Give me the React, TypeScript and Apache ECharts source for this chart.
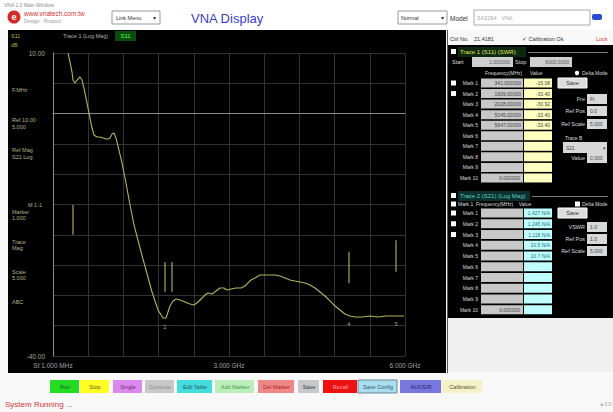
import React, { useEffect, useRef } from "react";
import * as echarts from "echarts";

// ---- Trace data (frequency in MHz, S11 in dB) ----
const freqMHz = [256, 290, 324, 341, 375, 409, 460, 494, 528, 562, 597, 631, 665, 699, 750, 801, 852, 903, 937, 972, 1006, 1040, 1074, 1108, 1176, 1244, 1313, 1381, 1483, 1585, 1688, 1790, 1875, 1926, 1960, 1994, 2045, 2097, 2165, 2250, 2335, 2403, 2472, 2540, 2591, 2642, 2710, 2778, 2847, 2915, 2966, 3034, 3119, 3205, 3273, 3324, 3375, 3443, 3528, 3614, 3699, 3784, 3869, 3955, 4040, 4125, 4210, 4295, 4381, 4466, 4551, 4636, 4722, 4807, 4892, 4977, 5062, 5148, 5267, 5403, 5540, 5676, 5812, 5983];
const traceDb = [10.0, 8.51, 6.86, 5.54, 5.05, 5.54, 6.04, 5.54, 4.22, 2.57, 0.92, -0.73, -2.38, -3.53, -3.86, -3.86, -4.03, -4.19, -4.19, -4.03, -3.37, -3.2, -4.03, -5.35, -8.15, -11.45, -15.08, -18.38, -22.18, -25.81, -29.44, -32.41, -33.73, -33.73, -32.74, -31.75, -30.92, -30.59, -30.76, -31.09, -31.42, -31.59, -31.09, -30.43, -29.93, -29.6, -29.77, -29.28, -28.78, -28.78, -29.11, -28.95, -28.78, -28.78, -28.45, -27.95, -27.46, -27.13, -26.63, -26.63, -26.63, -26.63, -26.8, -27.13, -27.46, -27.63, -27.79, -27.95, -28.28, -28.78, -29.44, -30.1, -30.92, -31.75, -32.41, -33.07, -33.4, -33.57, -33.57, -33.4, -33.57, -33.4, -33.4, -33.4];

// ---- Markers ----
const markerFreq = [341, 1909, 2028, 5045, 5847];
const markerTopDb = [-15.1, -24.5, -24.5, -22.8, -20.9];
const markerBottomDb = [-20.0, -29.4, -29.4, -28.0, -26.1];
const markerTag = ["", "2", "", "4", "5"];
const markerTagDb = [-35, -35.2, -35, -34.8, -34.8];

// ---- Axis ----
const xMin = 0;
const xMax = 6000;
const xInterval = 600;
const xLabelValues = [0, 3000, 6000];
const xLabelTexts = ["St 1.000 MHz", "3.000 GHz", "6.000 GHz"];
const yMin = -40;
const yMax = 10;
const yInterval = 5;
const yLabelValues = [10, -40];
const yLabelTexts = ["10.00", "-40.00"];

// ---- Panel texts ----
const leftInfo = ["F.MHz", "Ref 10.00", "5.000", "Ref Mag", "S21 Log", "M 1-1", "Marker", "1.000", "Trace", "Mag", "Scale", "5.000", "ABC"];
const markRowLabels = ["Mark 1", "Mark 2", "Mark 3", "Mark 4", "Mark 5", "Mark 6", "Mark 7", "Mark 8", "Mark 9", "Mark 10"];
const trace1FreqText = ["341.000000", "1909.00000", "2028.00000", "5045.00000", "5847.00000"];
const trace1ValText = ["-15.08", "-33.40", "-30.92", "-33.40", "-33.40"];
const trace2ValText = ["1.427 N/A", "1.245 N/A", "1.118 N/A", "10.5 N/A", "10.7 N/A"];
const buttonLabels = ["Run", "Stop", "Single", "Continue", "Edit Table", "Add Marker", "Del Marker", "Save", "Recall", "Save Config", "ALF/S/R", "Calibration"];
const buttonColors = ["#22dd22", "#ffff22", "#dd88ee", "#c8c8c8", "#44dddd", "#bbeebb", "#ee8888", "#c8c8cc", "#ee1111", "#aaddee", "#7777dd", "#f4f0c8"];
const buttonText = ["#206020", "#606010", "#603060", "#888888", "#206060", "#40a040", "#b02020", "#333333", "#ffaaaa", "#335566", "#222266", "#555533"];

const FONT = '"Liberation Sans", Arial, sans-serif';

function T(x: number, y: number, text: string, fill = "#000", size = 6, align = "left", weight = "normal") {
  return {
    type: "text",
    x,
    y,
    z: 20,
    silent: true,
    style: {
      text,
      fill,
      font: `${weight} ${size}px ${FONT}`,
      textAlign: align,
      textVerticalAlign: "middle",
      verticalAlign: "middle",
    },
  };
}

function R(x: number, y: number, w: number, h: number, fill: string, stroke?: string, z = 5) {
  return {
    type: "rect",
    z,
    silent: true,
    shape: { x, y, width: w, height: h },
    style: { fill, stroke: stroke || null, lineWidth: stroke ? 1 : 0 },
  };
}

function buildGraphics() {
  const g: any[] = [];
  // top bar
  g.push(R(0, 0, 613, 30, "#ffffff", undefined, -5));
  g.push(T(4, 5, "VNA 1.0 Main Window", "#888", 5));
  g.push({ type: "circle", z: 10, silent: true, shape: { cx: 14, cy: 17, r: 6.5 }, style: { fill: "#d42a2a" } });
  g.push(T(14, 17, "e", "#fff", 9, "center", "bold"));
  g.push(T(24, 13, "www.vnatech.com.tw", "#d03030", 6.5));
  g.push(T(24, 21, "Design · Product", "#999", 5));
  g.push(R(112, 11, 48, 13, "#fff", "#999", 6));
  g.push(T(116, 17.5, "Link Menu", "#333", 5.5));
  g.push(T(153, 17.5, "▾", "#333", 6));
  g.push(T(191, 18, "VNA Display", "#3c3ccc", 13));
  g.push(R(398, 11, 49, 13, "#fff", "#999", 6));
  g.push(T(401, 17.5, "Normal", "#333", 5.5));
  g.push(T(441, 17.5, "▾", "#333", 6));
  g.push(T(450, 18, "Model", "#333", 6.5));
  g.push(R(474, 10, 116, 15, "#fff", "#aaa", 6));
  g.push(T(477, 17.5, "SA3264 · VNA", "#aaa", 5.5));
  g.push({ type: "rect", z: 10, silent: true, shape: { x: 592, y: 14, width: 10, height: 6, r: 2 }, style: { fill: "#2a4ad0" } });
  g.push(T(450, 39, "Ctrl No.", "#333", 5.5));
  g.push(T(474, 39, "21.4181", "#333", 5.5));
  g.push(T(522, 39, "✓ Calibration Ok", "#333", 5.5));
  g.push(T(596, 39, "Lock", "#e04040", 5.5));

  // chart panel
  g.push(R(8, 30, 438, 343, "#000", undefined, -5));
  g.push(T(63, 36, "Trace 1 (Log Mag)", "#b0b0b0", 5.5));
  g.push(R(115, 31, 21, 10, "#0c4c0c", undefined, 6));
  g.push(T(125.5, 36, "S11", "#50ff50", 6, "center"));
  g.push(T(11, 36, "S11", "#a8b040", 5.5));
  g.push(T(11, 45, "dB", "#a8b040", 5.5));
  const infoPos = [[12, 90], [12, 120], [12, 127], [12, 150], [12, 157], [28, 205], [12, 212], [12, 218], [12, 242], [12, 248], [12, 272], [12, 278], [12, 302]];
  leftInfo.forEach((s, i) => g.push(T(infoPos[i][0], infoPos[i][1], s, "#b4b488", 5.5)));

  // right panel
  g.push(R(447, 45, 166, 273, "#000", undefined, -5));
  g.push(R(447, 30, 1, 343, "#555", undefined, -4));
  g.push(R(448, 318, 165, 54, "#f0f0f0", undefined, -5));

  // section 1
  g.push(R(451, 49, 5, 5, "#fff", undefined, 6));
  g.push(R(458, 47, 68, 10, "#0d2a10", undefined, 6));
  g.push(T(460, 52, "Trace 1 (S11) (SWR)", "#e0e060", 6));
  g.push(R(528, 52, 80, 1, "#777", undefined, 6));
  g.push(T(452, 62, "Start", "#ddd", 5.5));
  g.push(R(472, 57, 41, 10, "#cfcfcf", undefined, 6));
  g.push(T(510, 62, "1.000000", "#555", 5, "right"));
  g.push(T(515, 62, "Stop", "#ddd", 5.5));
  g.push(R(530, 57, 42, 10, "#cfcfcf", undefined, 6));
  g.push(T(569, 62, "6000.0000", "#555", 5, "right"));
  g.push(T(485, 73, "Frequency(MHz)", "#ddd", 5));
  g.push(T(530, 73, "Value", "#ddd", 5));
  g.push({ type: "circle", z: 10, silent: true, shape: { cx: 577, cy: 73, r: 2.2 }, style: { fill: "#fff" } });
  g.push(T(582, 73, "Delta Mode", "#ddd", 5));
  markRowLabels.forEach((lab, i) => {
    const cy = 83 + i * 10.55;
    if (i < 2) g.push(R(451, cy - 2.5, 5, 5, "#fff", undefined, 6));
    g.push(T(478, cy, lab, "#ddd", 5, "right"));
    g.push(R(481, cy - 4.5, 42, 9, "#c8c8c8", undefined, 6));
    g.push(R(524, cy - 4.5, 28, 9, "#ffffc0", undefined, 6));
    if (i < 5) {
      g.push(T(521, cy, trace1FreqText[i], "#444", 5, "right"));
      g.push(T(550, cy, trace1ValText[i], "#444", 5, "right"));
    }
    if (i === 9) g.push(T(520, cy, "0.000000", "#444", 5, "right"));
  });
  g.push(R(558, 78, 29, 10, "#dcdcdc", "#fff", 6));
  g.push(T(572.5, 83, "Save", "#333", 5.5, "center"));
  const rightLabels1 = [["Fre", 99], ["Ref Pos", 111], ["Ref Scale", 124]];
  rightLabels1.forEach(([s, y]: any, i) => {
    g.push(T(585, y, s, "#ddd", 5.5, "right"));
    g.push(R(587, y - 5, 20, 10, "#d8d8d8", undefined, 6));
    g.push(T(590, y, i === 2 ? "5.000" : i === 0 ? "Fr" : "0.0", "#444", 5));
  });
  g.push(T(565, 138, "Trace B", "#ddd", 5));
  g.push(R(563, 142, 44, 11, "#d8d8d8", undefined, 6));
  g.push(T(566, 147.5, "S21", "#444", 5));
  g.push(T(603, 147.5, "▾", "#444", 5));
  g.push(T(585, 158, "Value", "#ddd", 5.5, "right"));
  g.push(R(587, 153, 20, 10, "#d8d8d8", undefined, 6));
  g.push(T(590, 158, "0.000", "#444", 5));

  // section 2
  g.push(R(451, 193, 5, 5, "#fff", undefined, 6));
  g.push(R(458, 191, 72, 10, "#0b3030", undefined, 6));
  g.push(T(460, 196, "Trace 2 (S21) (Log Mag)", "#60d0c0", 6));
  g.push(R(532, 196, 76, 1, "#777", undefined, 6));
  g.push(R(451, 201.5, 5, 5, "#fff", undefined, 6));
  g.push(T(458, 204, "Mark 1  Frequency(MHz)    Value", "#ddd", 5));
  g.push(R(575, 201.5, 5, 5, "#fff", undefined, 6));
  g.push(T(582, 204, "Delta Mode", "#ddd", 5));
  markRowLabels.forEach((lab, i) => {
    const cy = 213 + i * 10.75;
    if (i < 3) g.push(R(451, cy - 2.5, 5, 5, "#fff", undefined, 6));
    g.push(T(478, cy, lab, "#ddd", 5, "right"));
    g.push(R(481, cy - 4.5, 42, 9, "#c8c8c8", undefined, 6));
    g.push(R(524, cy - 4.5, 28, 9, "#c0ffff", undefined, 6));
    if (i < 5) g.push(T(550, cy, trace2ValText[i], "#207080", 5, "right"));
    if (i === 9) g.push(T(520, cy, "0.000000", "#444", 5, "right"));
  });
  g.push(R(558, 208, 29, 10, "#dcdcdc", "#fff", 6));
  g.push(T(572.5, 213, "Save", "#333", 5.5, "center"));
  const rightLabels2 = [["VSWR", 227], ["Ref Pos", 239], ["Ref Scale", 251]];
  rightLabels2.forEach(([s, y]: any, i) => {
    g.push(T(585, y, s, "#ddd", 5.5, "right"));
    g.push(R(587, y - 5, 20, 10, "#d8d8d8", undefined, 6));
    g.push(T(590, y, i === 2 ? "5.000" : "1.0", "#444", 5));
  });

  // bottom buttons
  const bx0 = [50, 80, 113, 145, 177, 215, 258, 298, 323, 358, 400, 442];
  const bx1 = [80, 110, 143, 175, 213, 255, 295, 320, 358, 398, 442, 483];
  for (let i = 0; i < buttonLabels.length; i++) {
    g.push(R(bx0[i], 380, bx1[i] - bx0[i] - 1, 13, buttonColors[i], i === 9 ? "#6a8a9a" : undefined, 6));
    g.push(T((bx0[i] + bx1[i]) / 2, 386.5, buttonLabels[i], buttonText[i], 5.5, "center"));
  }
  g.push(T(5, 404, "System Running ...", "#dd3333", 8));
  g.push(T(600, 404, "● 0.0", "#999", 5));
  return g;
}

export default function App() {
  const ref = useRef<HTMLDivElement>(null);
  useEffect(() => {
    if (!ref.current) return;
    const chart = echarts.init(ref.current, null, { renderer: "svg" });
    const option: any = {
      animation: false,
      backgroundColor: "#f8f8f8",
      grid: { left: 53, top: 53, width: 352, height: 303, containLabel: false },
      xAxis: {
        type: "value",
        min: xMin,
        max: xMax,
        interval: xInterval,
        axisLine: { show: true, lineStyle: { color: "#8c8c8c", width: 1 } },
        axisTick: { show: false },
        splitLine: { show: true, lineStyle: { color: "#333333", width: 1 } },
        axisLabel: {
          color: "#a0a0a0",
          fontSize: 6.5,
          fontFamily: FONT,
          margin: 6,
          formatter: (v: number) => {
            const k = xLabelValues.indexOf(v);
            return k >= 0 ? xLabelTexts[k] : "";
          },
        },
      },
      yAxis: {
        type: "value",
        min: yMin,
        max: yMax,
        interval: yInterval,
        axisLine: { show: true, lineStyle: { color: "#8c8c8c", width: 1 } },
        axisTick: { show: false },
        splitLine: { show: true, lineStyle: { color: "#333333", width: 1 } },
        axisLabel: {
          color: "#aaaa9a",
          fontSize: 6.5,
          fontFamily: FONT,
          margin: 8,
          formatter: (v: number) => {
            const k = yLabelValues.indexOf(v);
            return k >= 0 ? yLabelTexts[k] : "";
          },
        },
      },
      series: [
        {
          type: "line",
          data: freqMHz.map((f, i) => [f, traceDb[i]]),
          showSymbol: false,
          symbol: "none",
          lineStyle: { color: "#b4b45a", width: 1.1 },
          z: 5,
        },
        {
          type: "custom",
          silent: true,
          z: 6,
          data: markerFreq.map((f, i) => [f, markerTopDb[i], markerBottomDb[i], markerTagDb[i], i]),
          renderItem: (params: any, api: any) => {
            const f = api.value(0);
            const p1 = api.coord([f, api.value(1)]);
            const p2 = api.coord([f, api.value(2)]);
            const p3 = api.coord([f, api.value(3)]);
            const tag = markerTag[api.value(4)];
            const children: any[] = [
              { type: "line", shape: { x1: p1[0], y1: p1[1], x2: p2[0], y2: p2[1] }, style: { stroke: "#a8a858", lineWidth: 1.2 } },
            ];
            if (tag) {
              children.push({
                type: "text",
                x: p3[0],
                y: p3[1],
                style: { text: tag, fill: "#b4b478", font: `5px ${FONT}`, textAlign: "center", textVerticalAlign: "middle", verticalAlign: "middle" },
              });
            }
            return { type: "group", children };
          },
        },
      ],
      graphic: { elements: buildGraphics() },
    };
    chart.setOption(option);
    return () => chart.dispose();
  }, []);
  return <div ref={ref} style={{ position: "fixed", left: 0, top: 0, width: 613, height: 412 }} />;
}
